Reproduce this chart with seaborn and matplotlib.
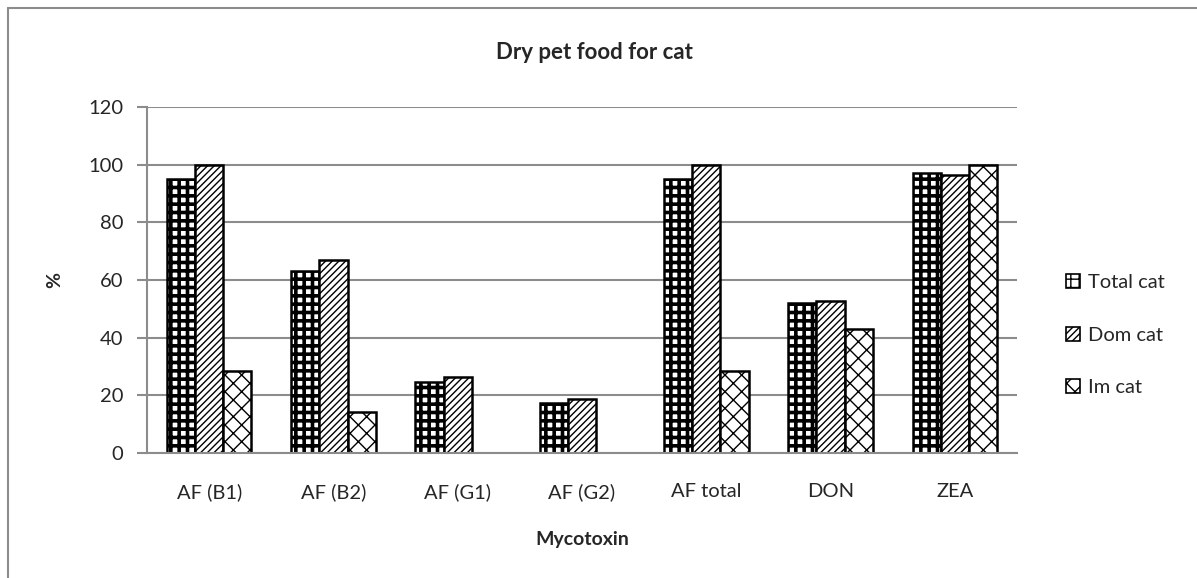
import numpy as np
import pandas as pd
import seaborn as sns
import matplotlib.pyplot as plt
from matplotlib.patches import Patch
from matplotlib.lines import Line2D

# values (% positive samples)
mycotoxins = ["AF (B1)", "AF (B2)", "AF (G1)", "AF (G2)", "AF total", "DON", "ZEA"]
total_cat = [95.0, 63.2, 24.5, 17.5, 95.0, 52.0, 97.0]
dom_cat = [100.0, 66.9, 26.4, 18.8, 100.0, 52.6, 96.5]
im_cat = [28.5, 14.3, 0.0, 0.0, 28.5, 42.9, 100.0]
groups = ["Total cat", "Dom cat", "Im cat"]
hatches = ["++", "/////", "xx"]

df = pd.DataFrame({
    "Mycotoxin": mycotoxins * 3,
    "value": total_cat + dom_cat + im_cat,
    "group": np.repeat(groups, len(mycotoxins)),
})

sns.set_style("white")
plt.rcParams["font.family"] = ["Lato", "DejaVu Sans"]
plt.rcParams["hatch.linewidth"] = 1.0

fig = plt.figure(figsize=(11.97, 5.78), dpi=100)
ax = fig.add_axes([0.1228, 0.2163, 0.7268, 0.5986])

sns.barplot(data=df, x="Mycotoxin", y="value", hue="group", hue_order=groups,
            palette=["white"] * 3, width=0.68, edgecolor="black", linewidth=1.8,
            legend=False, ax=ax)

for cont, h in zip(ax.containers, hatches):
    for bar in cont:
        bar.set_hatch(h)
        if h == "++" and hasattr(bar, "set_hatch_linewidth"):
            bar.set_hatch_linewidth(2.6)
        if bar.get_height() == 0:
            bar.set_visible(False)

ax.set_ylim(0, 120)
ax.set_yticks(range(0, 121, 20))
ax.set_xlim(-0.5, len(mycotoxins) - 0.5)
ax.yaxis.grid(True, color="#8c8c8c", linewidth=1.5)
ax.set_axisbelow(True)
for s in ["top", "right"]:
    ax.spines[s].set_visible(False)
ax.spines["left"].set_color("#8c8c8c")
ax.spines["left"].set_linewidth(1.5)
ax.spines["bottom"].set_color("#8c8c8c")
ax.spines["bottom"].set_linewidth(1.5)
ax.tick_params(axis="y", left=True, length=7, width=1.5, color="#8c8c8c",
               labelsize=14.5, pad=10)
ax.tick_params(axis="x", bottom=False, labelsize=14.5, pad=18)

ax.set_xlabel("Mycotoxin", fontsize=14, fontweight="bold", labelpad=22)
ax.set_ylabel("%", fontsize=14, fontweight="bold", labelpad=18)
fig.text(0.497, 0.91, "Dry pet food for cat", ha="center", va="center",
         fontsize=16, fontweight="bold")

handles = [Patch(facecolor="white", edgecolor="black", hatch=h, linewidth=1.2)
           for h in hatches]
fig.legend(handles, groups, loc="center left", bbox_to_anchor=(0.875, 0.42),
           frameon=False, fontsize=14.5, handlelength=0.7, handleheight=0.7,
           labelspacing=1.75, handletextpad=0.4)

# chart frame (left and top edges)
fig.add_artist(Line2D([0.007, 0.007], [0, 0.986], color="#8c8c8c", lw=1.5,
                      transform=fig.transFigure))
fig.add_artist(Line2D([0.007, 1.0], [0.986, 0.986], color="#8c8c8c", lw=1.5,
                      transform=fig.transFigure))

fig.savefig("out.png", dpi=100)
